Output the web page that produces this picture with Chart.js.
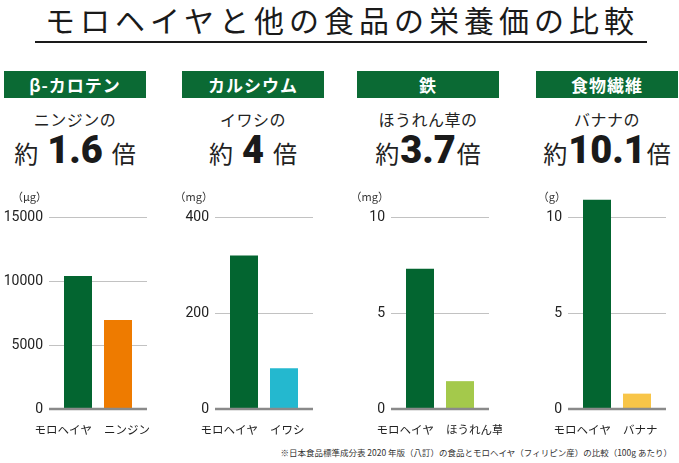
<!DOCTYPE html>
<html lang="ja">
<head>
<meta charset="utf-8">
<script src="https://cdn.jsdelivr.net/npm/chart.js@4"></script>
<style>
  html, body { margin: 0; padding: 0; background: #fff; }
  body { width: 679px; height: 463px; position: relative; overflow: hidden;
         font-family: "Noto Sans CJK JP", "Noto Sans", sans-serif; color: #222; }
  .title { position: absolute; left: 0; width: 684px; top: 1px; text-align: center;
           font-size: 30px; line-height: 36px; letter-spacing: 5px; color: #1a1a1a; }
  .rule { position: absolute; left: 35px; width: 612px; top: 41px; height: 2px; background: #1a1a1a; }
  .head { position: absolute; top: 71px; width: 142px; height: 27px; background: #0b6a34;
          color: #fff; font-weight: 700; font-size: 17px; line-height: 27px; text-align: center; letter-spacing: 1px; }
  .sub { position: absolute; top: 108px; width: 142px; text-align: center; font-size: 16px;
         line-height: 22px; letter-spacing: 0.5px; color: #222; }
  .ratio { position: absolute; top: 130px; width: 160px; text-align: center; white-space: nowrap; color: #222; line-height: 40px; }
  .ratio .k { font-size: 24px; }
  .ratio .n { font-family: Roboto, "Liberation Sans", sans-serif; font-weight: 900; font-size: 38px; color: #1a1a1a; }
  canvas { position: absolute; }
  .note { position: absolute; right: 7px; top: 446px; font-size: 8.5px; color: #333; white-space: nowrap; }
</style>
</head>
<body>
<div class="title">モロヘイヤと他の食品の栄養価の比較</div>
<div class="rule"></div>
<div class="note">※日本食品標準成分表 2020 年版（八訂）の食品とモロヘイヤ（フィリピン産）の比較（100g あたり）</div>
<script>
// data
const nutrients = ['β-カロテン', 'カルシウム', '鉄', '食物繊維'];
const units = ['（μg）', '（mg）', '（mg）', '（g）'];
const baseFood = 'モロヘイヤ';
const compareFoods = ['ニンジン', 'イワシ', 'ほうれん草', 'バナナ'];
const moroheiyaValues = [10400, 320, 7.3, 10.9];
const compareValues = [6950, 85, 1.45, 0.8];
const ratioLabels = ['1.6', '4', '3.7', '10.1'];
const yMax = [15000, 400, 10, 10];
const yStep = [5000, 200, 5, 5];
const moroheiyaColor = '#036530';
const compareColors = ['#ee7b00', '#24b8cf', '#a4c94b', '#f8c548'];

// layout
const headLeft = [4, 182, 357, 536];
const areaLeft = [58, 224, 400, 577];
const ratioGap = [9, 9, 1, 1];

const panelDecor = {
  id: 'panelDecor',
  beforeDatasetsDraw(chart, args, opts) {
    const {ctx, chartArea: a, scales: {y}} = chart;
    ctx.save();
    ctx.strokeStyle = '#c2c2c2';
    ctx.lineWidth = 1;
    y.ticks.forEach(t => {
      if (t.value === 0) return;
      const py = Math.round(y.getPixelForValue(t.value)) + 0.5;
      ctx.beginPath();
      ctx.moveTo(a.left - 9, py);
      ctx.lineTo(a.right + 9, py);
      ctx.stroke();
    });
    ctx.fillStyle = '#333';
    ctx.font = '11px "Noto Sans CJK JP"';
    ctx.textAlign = 'right';
    ctx.textBaseline = 'middle';
    ctx.fillText(opts.unit, a.left - 11, a.top - 20);
    ctx.restore();
  },
  afterDatasetsDraw(chart) {
    const {ctx, chartArea: a, scales: {y}} = chart;
    ctx.save();
    const py = y.getPixelForValue(0);
    ctx.strokeStyle = '#8a8a8a';
    ctx.lineWidth = 2.5;
    ctx.beginPath();
    ctx.moveTo(a.left - 9, py);
    ctx.lineTo(a.right + 9, py);
    ctx.stroke();
    // category labels: first one ends at its bar's right edge, last starts at its bar's left edge
    const bars = chart.getDatasetMeta(0).data;
    ctx.fillStyle = '#222';
    ctx.font = '11.5px "Noto Sans CJK JP"';
    ctx.textBaseline = 'middle';
    chart.data.labels.forEach((lab, i) => {
      const b = bars[i];
      if (i === 0) { ctx.textAlign = 'right'; ctx.fillText(lab, b.x + b.width / 2, a.bottom + 21); }
      else { ctx.textAlign = 'left'; ctx.fillText(lab, b.x - b.width / 2, a.bottom + 21); }
    });
    ctx.restore();
  }
};

nutrients.forEach((name, i) => {
  const head = document.createElement('div');
  head.className = 'head';
  head.style.left = headLeft[i] + 'px';
  head.textContent = name;
  document.body.appendChild(head);

  const sub = document.createElement('div');
  sub.className = 'sub';
  sub.style.left = headLeft[i] + 'px';
  sub.textContent = compareFoods[i] + 'の';
  document.body.appendChild(sub);

  const r = document.createElement('div');
  r.className = 'ratio';
  r.style.left = (headLeft[i] - 9) + 'px';
  r.innerHTML = '<span class="k">約</span><span class="n" style="margin:0 ' + ratioGap[i] + 'px">' +
    ratioLabels[i] + '</span><span class="k">倍</span>';
  document.body.appendChild(r);

  const cv = document.createElement('canvas');
  cv.style.left = (areaLeft[i] - 58) + 'px';
  cv.style.top = '185px';
  cv.style.width = '160px';
  cv.style.height = '260px';
  cv.width = 160;
  cv.height = 260;
  document.body.appendChild(cv);

  new Chart(cv.getContext('2d'), {
    type: 'bar',
    data: {
      labels: [baseFood, compareFoods[i]],
      datasets: [{
        data: [moroheiyaValues[i], compareValues[i]],
        backgroundColor: [moroheiyaColor, compareColors[i]],
        barPercentage: 0.7,
        categoryPercentage: 1,
        clip: false
      }]
    },
    options: {
      responsive: false,
      animation: false,
      layout: { padding: { top: 32, right: 22, bottom: 36, left: 0 } },
      plugins: {
        legend: { display: false },
        tooltip: { enabled: false },
        panelDecor: { unit: units[i] }
      },
      scales: {
        x: { display: false },
        y: {
          min: 0,
          max: yMax[i],
          afterFit: s => { s.width = 58; },
          grid: { display: false, drawTicks: false },
          border: { display: false },
          ticks: {
            stepSize: yStep[i],
            padding: 15,
            color: '#222',
            font: { family: 'Roboto, "Liberation Sans", sans-serif', size: 14 },
            callback: v => String(v)
          }
        }
      }
    },
    plugins: [panelDecor]
  });
});
</script>
</body>
</html>
